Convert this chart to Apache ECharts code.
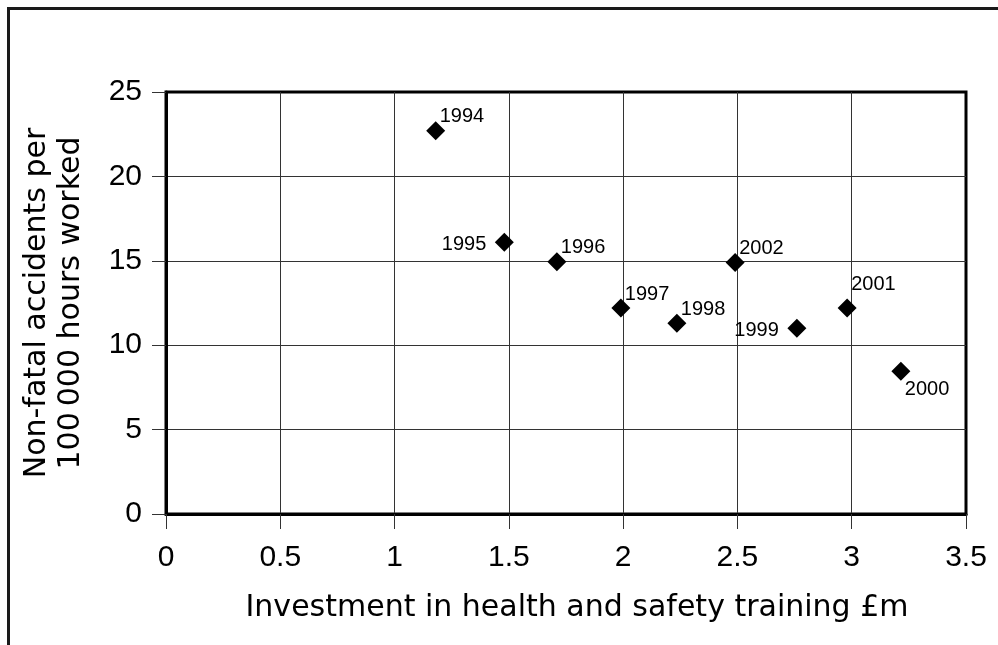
<!DOCTYPE html>
<html>
<head>
<meta charset="utf-8">
<script src="https://cdn.jsdelivr.net/npm/echarts@6/dist/echarts.min.js"></script>
<style>
html,body{margin:0;padding:0;background:#fff;}
#chart{width:998px;height:645px;}
</style>
</head>
<body>
<div id="chart"></div>
<script>
// Data
var years = ['1994','1995','1996','1997','1998','1999','2000','2001','2002'];
var investment = [1.18, 1.48, 1.71, 1.99, 2.235, 2.76, 3.215, 2.98, 2.49];
var accidents = [22.7, 16.1, 14.95, 12.2, 11.3, 11.0, 8.45, 12.2, 14.9];

var xAxisTitle = 'Investment in health and safety training \u00a3m';
var yAxisTitle = 'Non-fatal accidents per\n100\u2009000 hours worked';

// label placement (styling, not data)
var labelPlacement = {
  '1995': 'left',
  '1999': 'left',
  '2000': 'below',
  '2001': 'high'
};
function labelFor(year) {
  var p = labelPlacement[year] || 'upperRight';
  if (p === 'left') return { position: [-8.5, 11.5], align: 'right', verticalAlign: 'middle' };
  if (p === 'below') return { position: [13.5, 27.5], align: 'left', verticalAlign: 'middle' };
  if (p === 'high') return { position: [13.5, -14.5], align: 'left', verticalAlign: 'middle' };
  return { position: [13.5, -4.5], align: 'left', verticalAlign: 'middle' };
}

var points = years.map(function (y, i) {
  var l = labelFor(y);
  return {
    value: [investment[i], accidents[i]],
    name: y,
    label: {
      show: true,
      formatter: y,
      position: l.position,
      align: l.align,
      verticalAlign: l.verticalAlign
    }
  };
});

var chart = echarts.init(document.getElementById('chart'), null, { renderer: 'canvas' });
var tickFont = 'Liberation Sans';
var titleFont = 'DejaVu Sans';

chart.setOption({
  backgroundColor: '#ffffff',
  animation: false,
  graphic: [{
    type: 'polyline',
    silent: true,
    shape: { points: [[8.5, 645], [8.5, 8.5], [998, 8.5]] },
    style: { stroke: '#1a1a1a', lineWidth: 3, fill: null }
  }],
  grid: {
    left: 166, right: 32, top: 92, bottom: 131,
    show: true, borderColor: '#000', borderWidth: 3, backgroundColor: 'transparent'
  },
  xAxis: {
    type: 'value',
    min: 0, max: 3.5, interval: 0.5,
    name: xAxisTitle,
    nameLocation: 'middle',
    nameGap: 79,
    nameTextStyle: { fontFamily: titleFont, fontSize: 30, color: '#000', padding: [0, 0, 0, 22] },
    axisLine: { show: true, onZero: false, lineStyle: { color: '#000', width: 3 } },
    axisTick: { show: true, inside: false, length: 15, lineStyle: { color: '#333', width: 1 } },
    axisLabel: { margin: 29, fontFamily: tickFont, fontSize: 30, color: '#000' },
    splitLine: { show: true, showMinLine: false, showMaxLine: false, lineStyle: { color: '#333', width: 1 } }
  },
  yAxis: {
    type: 'value',
    min: 0, max: 25, interval: 5,
    name: yAxisTitle,
    nameLocation: 'middle',
    nameGap: 78,
    nameRotate: 90,
    nameTextStyle: { fontFamily: titleFont, fontSize: 30, lineHeight: 34, color: '#000', align: 'center' },
    axisLine: { show: true, onZero: false, lineStyle: { color: '#000', width: 3 } },
    axisTick: { show: true, inside: false, length: 14, lineStyle: { color: '#333', width: 1 } },
    axisLabel: { margin: 24, fontFamily: tickFont, fontSize: 30, color: '#000' },
    splitLine: { show: true, showMinLine: false, showMaxLine: false, lineStyle: { color: '#333', width: 1 } }
  },
  series: [{
    type: 'scatter',
    symbol: 'diamond',
    symbolSize: 19,
    itemStyle: { color: '#000', opacity: 1 },
    label: { fontFamily: tickFont, fontSize: 20, color: '#000', opacity: 1 },
    data: points
  }]
});
</script>
</body>
</html>
